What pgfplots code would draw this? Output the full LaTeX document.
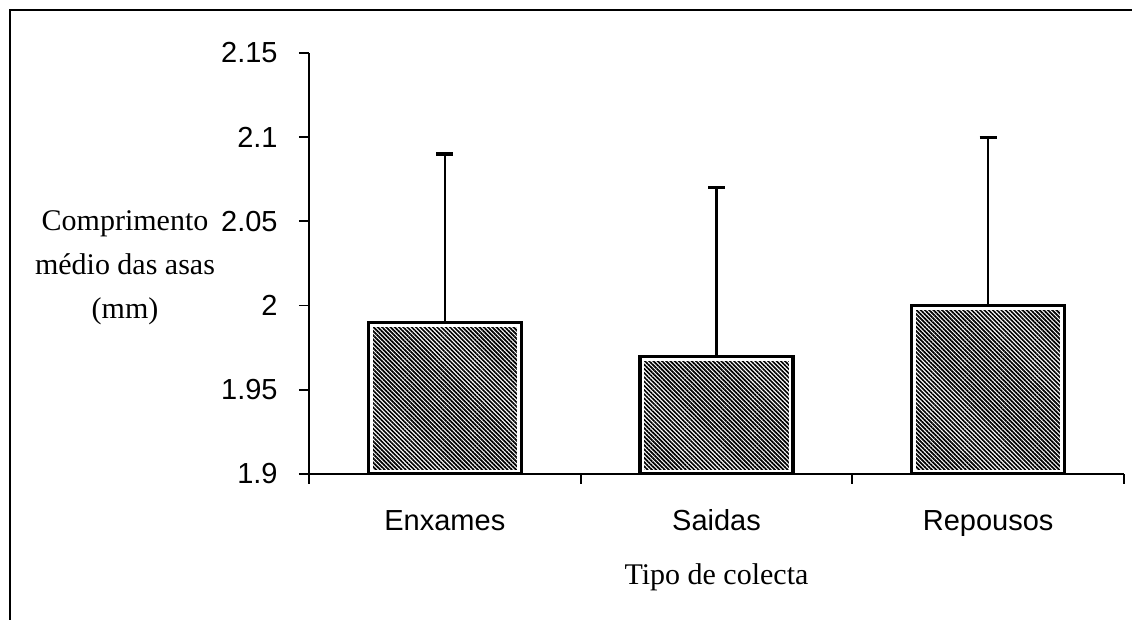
\documentclass[border=0pt]{standalone}
\usepackage{fontspec}
\setmainfont{Liberation Serif}
\setsansfont{Liberation Sans}
\usepackage{pgfplots}
\usepackage{pgfplotstable}
\pgfplotsset{compat=1.18}
\usetikzlibrary{patterns.meta}

\pgfplotstableread{
x m e
1 1.99 0.10
2 1.97 0.10
3 2.00 0.10
}\data

\begin{document}
\begin{tikzpicture}
\useasboundingbox (0,0) rectangle (568pt,312pt);
\begin{axis}[
  at={(154.5pt,75pt)}, anchor=south west,
  scale only axis, width=407.5pt, height=210.5pt,
  xmin=0.5, xmax=3.5, ymin=1.9, ymax=2.15,
  axis x line*=bottom, axis y line*=left,
  axis line style={line width=1pt, -},
  axis on top=true,
  tick align=outside,
  major tick length=5pt,
  tick style={line width=0.9pt, black},
  ytick={1.9,1.95,2,2.05,2.1,2.15},
  yticklabels={1.9,1.95,2,2.05,2.1,2.15},
  yticklabel style={font=\sffamily\fontsize{14.5}{16}\selectfont, anchor=east, inner sep=0pt},
  yticklabel shift=10.5pt,
  xtick={0.5,1.5,2.5,3.5},
  xticklabels={},
  extra x ticks={1,2,3},
  extra x tick labels={Enxames,Saidas,Repousos},
  extra x tick style={major tick length=0pt},
  xticklabel style={font=\sffamily\fontsize{14.5}{16}\selectfont, anchor=base, inner sep=0pt},
  xticklabel shift=28.5pt,
  xlabel={Tipo de colecta},
  every axis x label/.style={at={(axis description cs:0.5,0)}, anchor=center, yshift=-51.5pt, font=\fontsize{15}{17}\selectfont},
  ylabel={Comprimento\\médio das asas\\(mm)},
  every axis y label/.style={at={(axis description cs:0,0.489)}, anchor=center, xshift=-92pt, align=center, font=\fontsize{15}{22}\selectfont},
  ybar, bar width=76.5pt, bar shift=0pt,
  clip=true,
]
\addplot[pattern={Lines[angle=-45,distance=1.5pt,line width=0.85pt]}, draw=white, line width=4.4pt, bar shift=0pt]
  table[x=x,y=m]{\data};
\addplot[fill=none, draw=black, line width=1.6pt, bar shift=0pt,
  error bars/.cd, y dir=plus, y explicit,
  error bar style={line width=1.2pt, black},
  error mark options={rotate=90, line width=1.6pt, mark size=4.25pt, black}]
  table[x=x,y=m,y error=e]{\data};
\end{axis}
\draw[line width=1pt] (5pt,2pt) -- (5pt,307pt) -- (566pt,307pt);
\end{tikzpicture}
\end{document}
